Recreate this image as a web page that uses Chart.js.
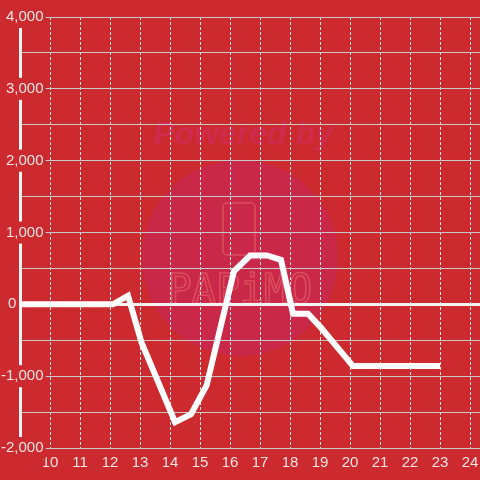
<!DOCTYPE html>
<html>
<head>
<meta charset="utf-8">
<script src="https://cdn.jsdelivr.net/npm/chart.js@4/dist/chart.umd.min.js"></script>
<style>
  html, body { margin: 0; padding: 0; background: #cc2a2e; }
  canvas { display: block; }
</style>
</head>
<body>
<canvas id="chart" width="480" height="480"></canvas>
<script>
const xValues = [8.9, 12.1, 12.6, 13.05, 14.17, 14.7, 15.22, 16.13, 16.67, 17.23, 17.7, 18.1, 18.6, 19.0, 20.1, 23.0];
const yValues = [0, 0, 120, -530, -1640, -1530, -1130, 460, 680, 680, 620, -130, -130, -310, -860, -860];
const xTickLabels = ["10", "11", "12", "13", "14", "15", "16", "17", "18", "19", "20", "21", "22", "23", "24"];
const yTickValues = [-2000, -1000, 1000, 2000, 3000, 4000];
const yTickLabels = ["-2,000", "-1,000", "1,000", "2,000", "3,000", "4,000"];

const RED = "#cc2a2e";
const LABEL = "#f6e4e4";
const FONT = { family: "'Liberation Sans', Arial, sans-serif", size: 15 };

// background + "Powered by" watermark under the grid
const watermark = {
  id: "watermark",
  beforeDraw(chart) {
    const c = chart.ctx;
    c.save();
    c.fillStyle = RED;
    c.fillRect(0, 0, chart.width, chart.height);
    c.fillStyle = "#c92848";
    c.beginPath();
    c.arc(240, 258, 98, 0, Math.PI * 2);
    c.fill();
    c.font = "italic bold 32px 'Liberation Sans', Arial, sans-serif";
    c.textAlign = "center";
    c.fillStyle = "#cf2b4c";
    c.fillText("Powered by", 243, 144);
    c.strokeStyle = "rgba(235, 110, 115, 0.55)";
    c.lineWidth = 1.5;
    c.beginPath();
    c.roundRect(223, 203, 32, 52, 4);
    c.stroke();
    c.font = "40px 'DejaVu Sans Mono', monospace";
    c.strokeText("PAPiMO", 240, 303);
    c.restore();
  }
};

const ctx = document.getElementById("chart").getContext("2d");
new Chart(ctx, {
  type: "line",
  data: {
    datasets: [{
      data: xValues.map((x, i) => ({ x: x, y: yValues[i] })),
      borderColor: "#ffffff",
      borderWidth: 6,
      pointRadius: 0,
      tension: 0,
      fill: false
    }]
  },
  options: {
    responsive: false,
    animation: false,
    layout: { padding: { top: 16, left: 0, right: 0, bottom: 0 } },
    plugins: { legend: { display: false }, tooltip: { enabled: false } },
    scales: {
      x: {
        type: "linear",
        min: 9,
        max: 24 + 1 / 3,
        afterFit: (s) => { s.height = 32; s.paddingLeft = 0; s.paddingRight = 0; },
        border: { display: false, dash: [3, 2] },
        grid: {
          drawTicks: false,
          color: (c) => (c.tick && c.tick.value >= 10 ? "#e8e8e8" : "transparent")
        },
        ticks: {
          stepSize: 1,
          includeBounds: false,
          autoSkip: false,
          maxRotation: 0,
          padding: 6,
          color: LABEL,
          font: FONT,
          callback: (v) => (v >= 10 ? xTickLabels[v - 10] : "")
        }
      },
      y: {
        type: "linear",
        position: "left",
        min: -2000,
        max: 4000,
        weight: 0,
        afterFit: (s) => { s.width = 20; },
        border: { display: true, color: "#f4f4f4", width: 3 },
        grid: {
          drawTicks: false,
          color: (c) => (c.tick && c.tick.value === 0 ? "#f4f4f4" : "#c8c8c8"),
          lineWidth: (c) => (c.tick && c.tick.value === 0 ? 3 : 1)
        },
        ticks: {
          stepSize: 500,
          mirror: true,
          crossAlign: "far",
          padding: -19,
          color: LABEL,
          font: FONT,
          showLabelBackdrop: true,
          backdropPadding: 2,
          backdropColor: (c) => (c.tick && yTickValues.includes(c.tick.value) ? RED : "transparent"),
          callback: (v) => {
            const i = yTickValues.indexOf(v);
            return i >= 0 ? yTickLabels[i] : "";
          }
        }
      },
      yZero: {
        type: "linear",
        position: "left",
        min: -2000,
        max: 4000,
        weight: 5,
        afterBuildTicks: (s) => { s.ticks = [{ value: 0 }]; },
        afterFit: (s) => { s.width = 0; },
        border: { display: false },
        grid: { display: false, drawTicks: false },
        ticks: {
          mirror: true,
          crossAlign: "far",
          padding: 8,
          color: LABEL,
          font: FONT,
          showLabelBackdrop: true,
          backdropPadding: 2,
          backdropColor: RED,
          callback: () => "0"
        }
      }
    }
  },
  plugins: [watermark]
});
</script>
</body>
</html>
